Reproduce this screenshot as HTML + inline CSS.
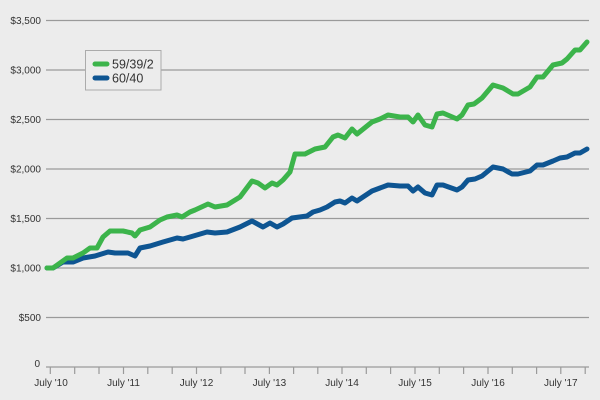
<!DOCTYPE html>
<html><head><meta charset="utf-8"><style>
html,body{margin:0;padding:0;background:#ececec;}
svg{display:block;}
text{font-family:"Liberation Sans",sans-serif;fill:#333;}
</style></head><body>
<svg width="600" height="400" viewBox="0 0 600 400" xmlns="http://www.w3.org/2000/svg">
<rect width="600" height="400" fill="#ececec"/>
<g stroke="#9a9a9a" stroke-width="1.2">
<line x1="46" y1="20.5" x2="589" y2="20.5"/>
<line x1="46" y1="70" x2="589" y2="70"/>
<line x1="46" y1="119.5" x2="589" y2="119.5"/>
<line x1="46" y1="169" x2="589" y2="169"/>
<line x1="46" y1="218.5" x2="589" y2="218.5"/>
<line x1="46" y1="268" x2="589" y2="268"/>
<line x1="46" y1="317.5" x2="589" y2="317.5"/>
<line x1="46" y1="367" x2="589" y2="367"/>
</g>
<g stroke="#9a9a9a" stroke-width="1.2">
<line x1="50.3" y1="367" x2="50.3" y2="374"/><line x1="74.7" y1="367" x2="74.7" y2="374"/><line x1="99" y1="367" x2="99" y2="374"/>
<line x1="123.5" y1="367" x2="123.5" y2="374"/><line x1="147.8" y1="367" x2="147.8" y2="374"/><line x1="172.2" y1="367" x2="172.2" y2="374"/>
<line x1="196.5" y1="367" x2="196.5" y2="374"/><line x1="220.8" y1="367" x2="220.8" y2="374"/><line x1="245" y1="367" x2="245" y2="374"/>
<line x1="269.4" y1="367" x2="269.4" y2="374"/><line x1="293.6" y1="367" x2="293.6" y2="374"/><line x1="317.8" y1="367" x2="317.8" y2="374"/>
<line x1="342" y1="367" x2="342" y2="374"/><line x1="366.3" y1="367" x2="366.3" y2="374"/><line x1="390.6" y1="367" x2="390.6" y2="374"/>
<line x1="415" y1="367" x2="415" y2="374"/><line x1="439.3" y1="367" x2="439.3" y2="374"/><line x1="463.6" y1="367" x2="463.6" y2="374"/>
<line x1="488" y1="367" x2="488" y2="374"/><line x1="512.3" y1="367" x2="512.3" y2="374"/><line x1="536.6" y1="367" x2="536.6" y2="374"/>
<line x1="560.8" y1="367" x2="560.8" y2="374"/><line x1="585.2" y1="367" x2="585.2" y2="374"/>
</g>
<g font-size="10" text-anchor="end">
<text x="41" y="24">$3,500</text>
<text x="41" y="73.5">$3,000</text>
<text x="41" y="123">$2,500</text>
<text x="41" y="172.5">$2,000</text>
<text x="41" y="222">$1,500</text>
<text x="41" y="271.5">$1,000</text>
<text x="41" y="321">$500</text>
<text x="40" y="367">0</text>
</g>
<g font-size="10" text-anchor="middle">
<text x="51" y="386">July '10</text>
<text x="123.5" y="386">July '11</text>
<text x="196.5" y="386">July '12</text>
<text x="269.4" y="386">July '13</text>
<text x="342" y="386">July '14</text>
<text x="415" y="386">July '15</text>
<text x="488" y="386">July '16</text>
<text x="560.8" y="386">July '17</text>
</g>
<polyline fill="none" stroke="#0e5592" stroke-width="5" stroke-linejoin="round" stroke-linecap="round" points="47,268 53,268 63,262 73,262 83,258 95,256 108,252 115,253 128,253 135,256 140,248 150,246 163,242 177,238 183,239 190,237 207,232 215,233 227,232 240,227 252,221 263,227 270,223 277,227 283,224 292,218 307,216 313,212 320,210 327,207 335,202 340,201 345,203 352,198 357,201 372,191 380,188 388,185 400,186 408,186 413,191 418,187 425,193 432,195 437,185 443,185 457,190 462,187 468,180 475,179 482,176 493,167 503,169 512,174 518,174 530,171 537,165 543,165 553,161 560,158 567,157 575,153 580,153 587,149"/>
<polyline fill="none" stroke="#3cb44b" stroke-width="5" stroke-linejoin="round" stroke-linecap="round" points="47,268 53,268 60,263 67,258 73,258 83,253 90,248 97,248 103,237 110,231 123,231 132,233 135,236 140,230 150,227 160,220 167,217 177,215 182,217 190,212 195,210 208,204 215,207 227,205 240,197 252,181 258,183 265,188 272,183 277,185 283,180 290,172 295,154 305,154 315,149 325,147 333,137 338,135 345,138 352,129 357,134 372,122 380,119 388,115 400,117 408,117 413,122 418,115 425,125 432,127 437,114 443,113 457,119 462,115 468,105 474,104 482,98 493,85 503,88 513,94 518,94 530,87 537,77 543,77 553,65 562,63 567,59 575,50 580,50 587,42"/>
<rect x="85.5" y="50.5" width="75.5" height="39.5" fill="#ececec" stroke="#ababab" stroke-width="1"/>
<line x1="95" y1="64" x2="107" y2="64" stroke="#3cb44b" stroke-width="5" stroke-linecap="round"/>
<line x1="95" y1="78" x2="107" y2="78" stroke="#0e5592" stroke-width="5" stroke-linecap="round"/>
<text x="112" y="68.5" font-size="12.5">59/39/2</text>
<text x="112" y="82.5" font-size="12.5">60/40</text>
</svg>
</body></html>
